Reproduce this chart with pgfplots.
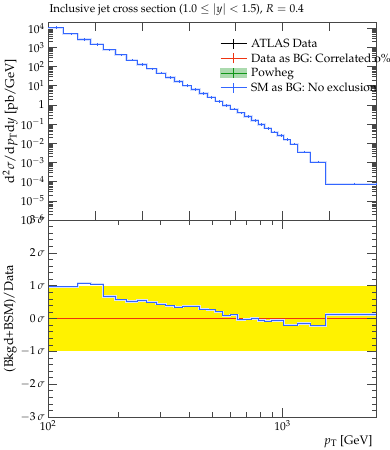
\documentclass[border=0pt]{standalone}
\usepackage[T1]{fontenc}
\usepackage{mathpazo}
\usepackage{pgfplots}
\usepackage{pgfplotstable}
\pgfplotsset{compat=1.18}
\definecolor{rvblue}{RGB}{51,102,255}
\definecolor{rvred}{RGB}{238,51,17}
\definecolor{rvgreen}{RGB}{16,150,24}
\definecolor{axgray}{RGB}{70,70,70}

\pgfplotstableread{
lo    c     sm       data      r
100   108   10500    9690      0.96
116   125   5000     4610      0.97
134   143   2600     2380      1.07
152   162   1450     1330      1.05
172   183   730      690       0.67
194   205   400      382       0.57
216   228   218      209       0.52
240   252   130      124       0.55
264   277   75       72        0.50
290   304   46       44.4      0.44
318   332   27       26.2      0.39
346   361   16.8     16.3      0.35
376   392   10       9.7       0.37
408   425   6.4      6.21      0.37
442   460   4.0      3.91      0.28
478   497   2.5      2.45      0.27
516   536   1.55     1.52      0.21
556   577   0.95     0.944     0.08
598   620   0.6      0.595     0.11
642   665   0.38     0.381     -0.04
688   712   0.25     0.2504    -0.02
736   761   0.157    0.157     0.0
786   812   0.095    0.0955    -0.06
838   866   0.061    0.0614    -0.08
894   923   0.038    0.0382    -0.06
952   982   0.025    0.0251    -0.06
1012  1044  0.0152   0.01544   -0.20
1076  1119  0.0091   0.00925   -0.20
1162  1236  0.0035   0.00354   -0.15
1310  1420  0.00105  0.00107   -0.22
1530  2015  7.5e-5   7.43e-5   0.12
2500  2500  7.5e-5   7.43e-5   0.12
}\jets

\begin{document}
\begin{tikzpicture}
% top panel
\begin{axis}[
  scale only axis, width=328pt, height=198pt,
  at={(48pt,230pt)}, anchor=south west,
  xmode=log, xmin=100, xmax=2500,
  ymode=log, ymin=1e-6, ymax=2.1e4,
  axis line style={axgray, line width=0.5pt},
  every tick/.append style={axgray, line width=0.5pt},
  tick align=inside,
  major tick length=9pt, minor tick length=4.5pt,
  tick label style={font=\fontsize{11.5}{13}\selectfont},
  xticklabels={},
  ytick={1e-6,1e-5,1e-4,1e-3,1e-2,1e-1,1,1e1,1e2,1e3,1e4},
  yticklabels={$10^{-6}$,$10^{-5}$,$10^{-4}$,$10^{-3}$,$10^{-2}$,$10^{-1}$,$1$,$10^{1}$,$10^{2}$,$10^{3}$,$10^{4}$},
  ylabel={$\mathrm{d}^2\sigma/\mathrm{d}p_\mathrm{T}\mathrm{d}y$ [pb/GeV]},
  ylabel style={at={(axis description cs:-0.115,0.5)}, anchor=center, font=\fontsize{12.8}{15}\selectfont},
  legend style={draw=none, fill=none, at={(axis description cs:0.515,0.935)}, anchor=north west,
    row sep=0.6pt, font=\fontsize{11.9}{14}\selectfont, nodes={anchor=west, inner xsep=4pt}},
  legend cell align=left,
]
\addlegendimage{legend image code/.code={
    \draw[black, line width=1pt] (0pt,0pt) -- (26pt,0pt);
    \draw[black, line width=0.7pt] (13pt,-5pt) -- (13pt,5pt);}}
\addlegendentry{ATLAS Data}
\addlegendimage{legend image code/.code={
    \draw[rvred, line width=1pt] (0pt,0pt) -- (26pt,0pt);
    \draw[rvred, line width=0.7pt] (13pt,-5pt) -- (13pt,5pt);}}
\addlegendentry{Data as BG: Correlated o\%}
\addlegendimage{legend image code/.code={
    \fill[rvgreen!35] (0pt,-4.5pt) rectangle (26pt,4.5pt);
    \draw[rvgreen, line width=1pt] (0pt,0pt) -- (26pt,0pt);
    \draw[rvgreen, line width=0.7pt] (13pt,-5pt) -- (13pt,5pt);}}
\addlegendentry{Powheg}
\addlegendimage{legend image code/.code={
    \draw[rvblue, line width=1pt] (0pt,0pt) -- (26pt,0pt);
    \draw[rvblue, line width=0.7pt] (13pt,-5pt) -- (13pt,5pt);}}
\addlegendentry{SM as BG: No exclusion}

\addplot[const plot mark left, rvgreen, line width=1pt, forget plot] table[x=lo, y=sm] {\jets};
\addplot[const plot mark left, black, line width=1pt, forget plot] table[x=lo, y=data] {\jets};
\addplot[const plot mark left, rvred, line width=1pt, forget plot] table[x=lo, y=data] {\jets};
\addplot[const plot mark left, rvblue!20, line width=2.4pt, forget plot] table[x=lo, y=sm] {\jets};
\addplot[const plot mark left, rvblue, line width=1pt, forget plot] table[x=lo, y=sm] {\jets};
\addplot[only marks, mark=|, mark size=1.3pt, rvblue, forget plot] table[x=c, y=sm] {\jets};
\end{axis}

% bottom panel
\begin{axis}[
  scale only axis, width=328pt, height=197pt,
  at={(48pt,33pt)}, anchor=south west,
  xmode=log, xmin=100, xmax=2500,
  ymin=-3, ymax=3,
  axis line style={axgray, line width=0.5pt},
  every tick/.append style={axgray, line width=0.5pt},
  tick align=inside,
  major tick length=9pt, minor tick length=4.5pt,
  tick label style={font=\fontsize{11.5}{13}\selectfont},
  ytick={-3,-2,-1,0,1,2,3},
  yticklabels={$-3\,\sigma$,$-2\,\sigma$,$-1\,\sigma$,$0\,\sigma$,$1\,\sigma$,$2\,\sigma$,$3\,\sigma$},
  minor y tick num=4,
  xtick={100,1000},
  xticklabels={$10^{2}$,$10^{3}$},
  ylabel={(Bkgd+BSM)/Data},
  ylabel style={at={(axis description cs:-0.115,0.5)}, anchor=center, font=\fontsize{12.8}{15}\selectfont},
  xlabel={$p_\mathrm{T}$ [GeV]},
  xlabel style={at={(axis description cs:1,0)}, anchor=north east, yshift=-15pt, font=\fontsize{12.3}{14}\selectfont},
  axis on top,
]
\addplot[draw=none, fill=yellow] coordinates {(100,-1) (2500,-1) (2500,1) (100,1)} -- cycle;
\addplot[rvred, line width=1.1pt] coordinates {(100,0) (2500,0)};
\addplot[const plot mark left, rvblue!20, line width=2.2pt] table[x=lo, y=r] {\jets};
\addplot[const plot mark left, rvblue, line width=1pt] table[x=lo, y=r] {\jets};
\end{axis}

\node[anchor=west, font=\fontsize{11.4}{13}\selectfont] at (46pt,440pt) {Inclusive jet cross section ($1.0 \leq |y| < 1.5$), $R = 0.4$};

\pgfresetboundingbox
\path[use as bounding box] (0pt,0pt) rectangle (389pt,450pt);
\end{tikzpicture}
\end{document}
